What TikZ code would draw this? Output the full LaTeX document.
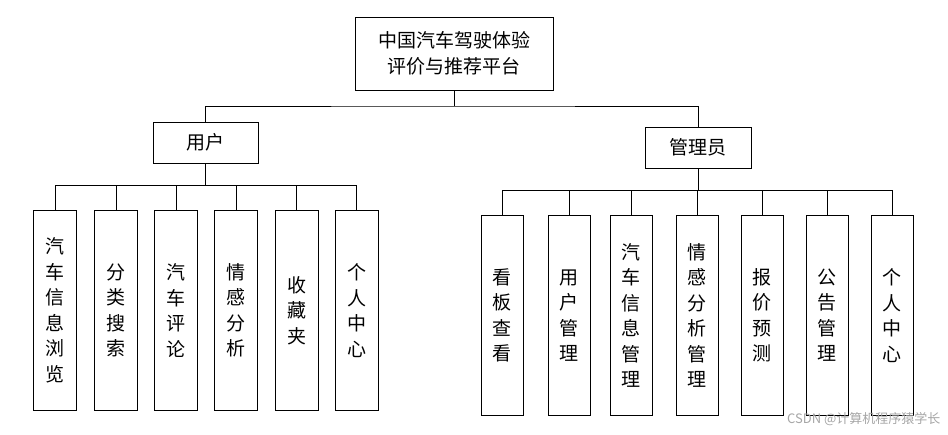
\documentclass[tikz,border=0pt]{standalone}
\usepackage{fontspec}
\setmainfont{Noto Sans CJK SC}
\begin{document}
\begin{tikzpicture}[x=1pt,y=-1pt,
  box/.style={draw,thick,inner sep=0pt,align=center,font=\fontsize{19}{25.5}\selectfont},
  ln/.style={thick}]
\useasboundingbox (0,0) rectangle (948,434);
\node[box,minimum width=198,minimum height=73] (root) at (454,53.5) {中国汽车驾驶体验\\评价与推荐平台};
\node[box,minimum width=105,minimum height=41] (u) at (205.5,142.5) {用户};
\node[box,minimum width=106,minimum height=41] (a) at (698,147.5) {管理员};
\coordinate (rb) at (454,106);
\draw[ln] (root.south) -- (rb);
\draw[ln] (u.north) |- (rb) -| (a.north);
\foreach \n/\x/\t in {l1/55/汽\\车\\信\\息\\浏\\览, l2/116/分\\类\\搜\\索, l3/176/汽\\车\\评\\论, l4/236/情\\感\\分\\析, l5/296.5/收\\藏\\夹, l6/356.5/个\\人\\中\\心}{
  \node[box,minimum width=43,minimum height=200,anchor=north] (\n) at (\x,210) {\t};
  \draw[ln] (\n.north) |- (u.south |- 0,185) -- (u.south);
}
\foreach \n/\x/\t in {r1/502/看\\板\\查\\看, r2/569/用\\户\\管\\理, r3/631/汽\\车\\信\\息\\管\\理, r4/697/情\\感\\分\\析\\管\\理, r5/762/报\\价\\预\\测, r6/827/公\\告\\管\\理, r7/892/个\\人\\中\\心}{
  \node[box,minimum width=42,minimum height=200,anchor=north] (\n) at (\x,215) {\t};
  \draw[ln] (\n.north) |- (a.south |- 0,190) -- (a.south);
}
\node[text=gray!70,font=\fontsize{13}{15}\selectfont,anchor=east] (wm) at (944,419) {CSDN @计算机程序猿学长};
\end{tikzpicture}
\end{document}
